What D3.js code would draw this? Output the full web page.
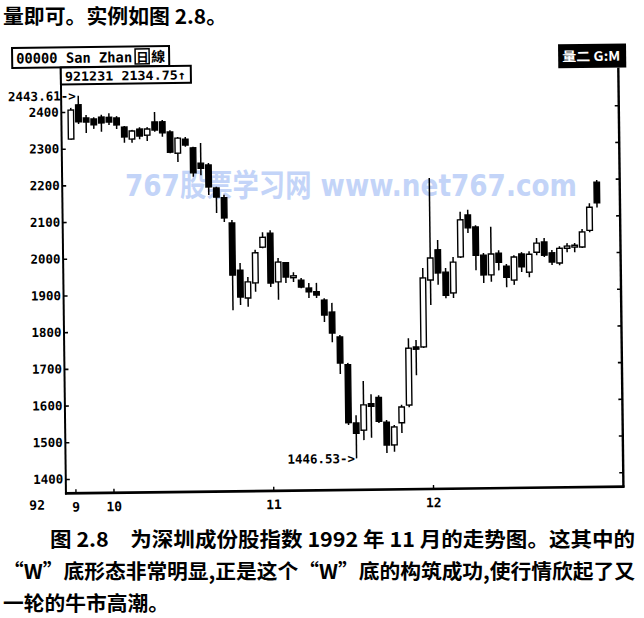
<!DOCTYPE html>
<html><head><meta charset="utf-8">
<script src="https://cdn.jsdelivr.net/npm/d3@7"></script>
<style>body{margin:0;background:#fff}svg{display:block}</style>
</head><body>
<svg id="c" width="644" height="618"></svg>
<script>
// ---- data (Shenzhen component index, daily candles, late Sep – 31 Dec 1992) ----
const opens  = [2326,2419,2383,2380,2385,2384,2382,2357,2324,2351,2334,2370,2370,2342,2284,2322,2298,2256,2251,2188,
                2161,2092,1963,1887,1928,2025,2063,1930,1982,1941,1934,1912,1902,1879,1846,1778,1702,1543,1523,1595,
                1612,1544,1482,1542,1590,1748,1748,1930,2012,1951,1894,1992,2106,2073,1996,1942,2001,1965,1927,1998,
                1948,2002,2030,2000,1972,2012,2015,2015,2060,2191];
const highs  = [2411,2443.61,2391,2385,2391,2395,2387,2360,2349,2356,2356,2397,2375,2347,2328,2328,2301,2311,2256,2191,
                2169,2100,1983,1944,2018,2066,2071,1995,1984,1956,1940,1926,1926,1884,1871,1783,1707,1564,1657,1621,
                1618,1550,1536,1591,1772,1767,1963,2208,2039,1962,1992,2115,2120,2078,2002,2073,2009,1971,1995,2003,
                2005,2041,2041,2008,2018,2026,2026,2064,2134,2197];
const lows   = [2324,2367,2342,2353,2345,2363,2352,2314,2314,2323,2318,2343,2329,2284,2260,2301,2219,2223,2169,2120,
                2095,1854,1868,1863,1904,2022,1916,1881,1927,1929,1912,1885,1885,1819,1764,1677,1538,1446.53,1496,1502,
                1542,1460,1463,1514,1584,1671,1745,1862,1917,1880,1880,1989,2057,1955,1920,1923,1954,1908,1914,1949,
                1934,1994,1989,1967,1966,2001,2001,2012,2055,2122];
const closes = [2405,2373,2372,2364,2369,2371,2363,2330,2346,2332,2351,2348,2340,2287,2325,2306,2230,2242,2191,2163,
                2106,1950,1890,1931,2010,2052,1927,1984,1943,1946,1915,1902,1893,1838,1789,1707,1544,1515,1592,1588,
                1547,1482,1531,1585,1745,1742,1936,1990,1949,1888,1978,2093,2071,1996,1942,1999,1976,1935,1990,1963,
                1997,2027,1994,1975,2012,2018,2020,2056,2123,2134.75];
const yTicks = [1400,1500,1600,1700,1800,1900,2000,2100,2200,2300,2400];
const monthTickIdx = [0, 5, 26, 47];
const monthLabels = ["9","10","11","12"];
const yearLabel = "92";
const titleCode = "00000  San Zhan";
const titleKind = ["日","線"];
const lastInfo = "921231  2134.75↑";
const modeLabel = "量二 G:M";
const maxIdx = 1, maxText = "2443.61->";
const minIdx = 37, minText = "1446.53->";
const watermark = "767股票学习网 www.net767.com";
const textTop = "量即可。实例如图 2.8。";
const caption = ["图 2.8　为深圳成份股指数 1992 年 11 月的走势图。这其中的",
                 "“W”底形态非常明显,正是这个“W”底的构筑成功,使行情欣起了又",
                 "一轮的牛市高潮。"];

const candles = opens.map((o,i)=>({i, o, h:highs[i], l:lows[i], c:closes[i]}));

const svg = d3.select("#c");
const cjk = "'Noto Sans CJK SC','Noto Sans',sans-serif";
const mono = "'DejaVu Sans Mono','Liberation Mono',monospace";

// watermark (digital overlay, not skewed); squeezed horizontally to the reference width
const wm = svg.append("g");
const wmText = wm.append("text").attr("x",0).attr("y",0)
  .style("font-family","'DejaVu Sans',"+cjk).style("font-weight","bold").style("font-size","31px")
  .style("fill","#c3d4f8").text(watermark);
const wmW = wmText.node().getComputedTextLength() || 452;
wm.attr("transform",`translate(125,196) scale(${452/wmW},1)`);

// page text
svg.append("text").attr("x",3).attr("y",24).style("font-family",cjk).style("font-weight","bold")
  .style("font-size","20px").attr("textLength",224).attr("lengthAdjust","spacingAndGlyphs").text(textTop);
const capX = [50,3,3], capY = [547,579,611], capW = [585,632,166];
caption.forEach((t,k)=>{
  svg.append("text").attr("x",capX[k]).attr("y",capY[k]).style("font-family",cjk).style("font-weight","bold")
    .style("font-size","20px").attr("textLength",capW[k]).attr("lengthAdjust","spacingAndGlyphs").text(t);
});

// chart (scanned, slightly skewed)
const g = svg.append("g").attr("transform","rotate(-0.7,343,290)");
const L = 63.5, R = 621, B = 490;
const x = d3.scaleLinear().domain([0, opens.length-1]).range([73, 598]);
const y = d3.scaleLinear().domain([1400, 2400]).range([475.6, 108.6]);

// axes
const ya = g.append("g").attr("transform",`translate(${L},0)`)
  .call(d3.axisLeft(y).tickValues(yTicks).tickSize(-4).tickPadding(2.5).tickFormat(d3.format("d")));
ya.select(".domain").remove();
ya.selectAll("line").attr("stroke","#000").attr("stroke-width",1.6);
ya.selectAll("text").style("font-family",mono).style("font-weight","bold").style("font-size","12.5px").attr("fill","#000");

const yr = g.append("g").attr("transform",`translate(${R},0)`)
  .call(d3.axisRight(y).tickValues(yTicks).tickSize(-4).tickFormat(""));
yr.select(".domain").remove();
yr.selectAll("line").attr("stroke","#000").attr("stroke-width",1.6);

const xa = g.append("g").attr("transform",`translate(0,${B})`)
  .call(d3.axisBottom(x).tickValues(monthTickIdx).tickSize(-4).tickPadding(9).tickFormat((d,i)=>monthLabels[i]));
xa.select(".domain").remove();
xa.selectAll("line").attr("stroke","#000").attr("stroke-width",1.4);
xa.selectAll("text").style("font-family",mono).style("font-weight","bold").style("font-size","13px").attr("fill","#000");
g.append("text").attr("x",L-29).attr("y",B+16).attr("text-anchor","middle")
  .style("font-family",mono).style("font-weight","bold").style("font-size","13px").text(yearLabel);

g.append("line").attr("x1",L).attr("x2",L).attr("y1",64).attr("y2",B+1).attr("stroke","#000").attr("stroke-width",2);
g.append("line").attr("x1",R).attr("x2",R).attr("y1",71).attr("y2",B+1).attr("stroke","#000").attr("stroke-width",2.4);
g.append("line").attr("x1",L-1).attr("x2",R+1).attr("y1",B).attr("y2",B).attr("stroke","#000").attr("stroke-width",2.6);

// candles
const bw = 5.5;
const cg = g.append("g");
cg.selectAll("line.w").data(candles).join("line").attr("class","w")
  .attr("x1",d=>x(d.i)).attr("x2",d=>x(d.i)).attr("y1",d=>y(d.h)).attr("y2",d=>y(d.l))
  .attr("stroke","#000").attr("stroke-width",1.5);
cg.selectAll("rect.b").data(candles).join("rect").attr("class","b")
  .attr("x",d=>x(d.i)-bw/2).attr("width",bw)
  .attr("y",d=>y(Math.max(d.o,d.c)))
  .attr("height",d=>Math.max(1.5, Math.abs(y(d.o)-y(d.c))))
  .attr("fill",d=>d.c>=d.o?"#fff":"#000").attr("stroke","#000").attr("stroke-width",1.4);

// extreme labels
g.append("text").attr("x",x(maxIdx)-2.5).attr("y",y(highs[maxIdx])+4.5).attr("text-anchor","end")
  .style("font-family",mono).style("font-weight","bold").style("font-size","12.5px").text(maxText);
g.append("text").attr("x",x(minIdx)-1.5).attr("y",y(lows[minIdx])+4.5).attr("text-anchor","end")
  .style("font-family",mono).style("font-weight","bold").style("font-size","12.5px").text(minText);

// info boxes
g.append("rect").attr("x",15).attr("y",44).attr("width",157).attr("height",20)
  .attr("fill","#fff").attr("stroke","#000").attr("stroke-width",2);
g.append("text").attr("x",19).attr("y",59.5).attr("textLength",116).attr("lengthAdjust","spacingAndGlyphs")
  .style("font-family",mono).style("font-weight","bold").style("font-size","14px").text(titleCode);
g.append("rect").attr("x",138).attr("y",46.5).attr("width",14).attr("height",15)
  .attr("fill","none").attr("stroke","#000").attr("stroke-width",1.5);
g.append("text").attr("x",139).attr("y",59.5).style("font-family",cjk).style("font-weight","bold").style("font-size","12.5px").text(titleKind[0]);
g.append("text").attr("x",154).attr("y",59.5).style("font-family",cjk).style("font-weight","bold").style("font-size","14px").text(titleKind[1]);

g.append("rect").attr("x",L).attr("y",64).attr("width",130).attr("height",17)
  .attr("fill","#fff").attr("stroke","#000").attr("stroke-width",2);
g.append("text").attr("x",L+4).attr("y",77.5).attr("textLength",121).attr("lengthAdjust","spacingAndGlyphs")
  .style("font-family",mono).style("font-weight","bold").style("font-size","12.5px").text(lastInfo);

g.append("rect").attr("x",561).attr("y",47).attr("width",68).attr("height",24).attr("fill","#000");
g.append("text").attr("x",565).attr("y",64).attr("textLength",58).attr("lengthAdjust","spacingAndGlyphs")
  .style("font-family",cjk).style("font-weight","bold").style("font-size","13px").attr("fill","#fff").text(modeLabel);
</script>
</body></html>
